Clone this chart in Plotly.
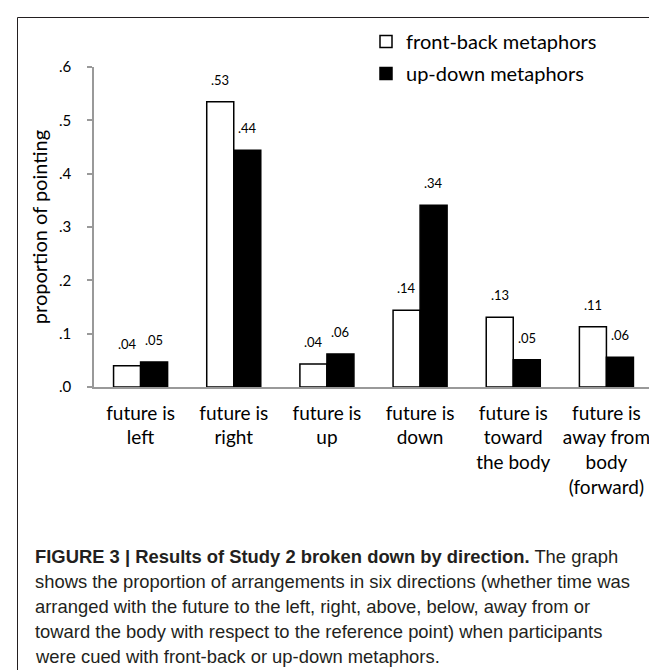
import plotly.graph_objects as go

categories = ["future is<br>left", "future is<br>right", "future is<br>up",
              "future is<br>down", "future is<br>toward<br>the body",
              "future is<br>away from<br>body<br>(forward)"]
front_back = [0.040, 0.535, 0.043, 0.144, 0.131, 0.113]
up_down = [0.047, 0.444, 0.062, 0.341, 0.051, 0.056]
front_back_labels = [".04", ".53", ".04", ".14", ".13", ".11"]
up_down_labels = [".05", ".44", ".06", ".34", ".05", ".06"]
y_tickvals = [0.0, 0.1, 0.2, 0.3, 0.4, 0.5, 0.6]
y_ticktext = [".0", ".1", ".2", ".3", ".4", ".5", ".6"]
series_names = ["front-back metaphors", "up-down metaphors"]
caption_lines = [
    "<b>FIGURE 3 | Results of Study 2 broken down by direction.</b> The graph",
    "shows the proportion of arrangements in six directions (whether time was",
    "arranged with the future to the left, right, above, below, away from or",
    "toward the body with respect to the reference point) when participants",
    "were cued with front-back or up-down metaphors.",
]

W, H = 657, 670
L, R, T, B = 86, 645, 59, 379


def xp(px):
    return (px - L) / (R - L)


def yp(py):
    return (B - py) / (B - T)


FONT = "Lato"

fig = go.Figure()
fig.add_trace(go.Bar(x=categories, y=front_back, name=series_names[0],
                     legendgroup="a",
                     marker=dict(color="white", line=dict(color="black", width=1.5))))
fig.add_trace(go.Bar(x=categories, y=up_down, name=series_names[1],
                     legendgroup="b",
                     marker=dict(color="black", line=dict(color="black", width=1.5))))

annotations = []
for i, cat in enumerate(categories):
    annotations.append(dict(x=cat, y=front_back[i], text=front_back_labels[i],
                            xref="x", yref="y", showarrow=False, xshift=-13.5,
                            yshift=22, yanchor="middle",
                            font=dict(family=FONT, size=13, color="black")))
    annotations.append(dict(x=cat, y=up_down[i], text=up_down_labels[i],
                            xref="x", yref="y", showarrow=False, xshift=13.5,
                            yshift=22, yanchor="middle",
                            font=dict(family=FONT, size=13, color="black")))

cap_y = [548, 573, 598, 623, 648]
for line, cy in zip(caption_lines, cap_y):
    annotations.append(dict(x=xp(25), y=yp(cy), xref="paper", yref="paper",
                            text=line, showarrow=False, xanchor="left",
                            yanchor="middle", align="left",
                            font=dict(family="Liberation Sans", size=18.4,
                                      color="#231f20")))

fig.update_layout(
    width=W, height=H,
    margin=dict(l=L, r=W - R, t=T, b=H - B, autoexpand=False),
    paper_bgcolor="white", plot_bgcolor="white",
    barmode="group", bargap=0.42, bargroupgap=0,
    font=dict(family=FONT, color="black"),
    showlegend=True,
    legend=dict(x=xp(358), y=yp(14), xanchor="left", yanchor="top",
                bgcolor="rgba(0,0,0,0)", font=dict(family=FONT, size=20),
                tracegroupgap=3),
    annotations=annotations,
    shapes=[dict(type="rect", xref="paper", yref="paper",
                 x0=xp(9.5), x1=xp(700), y0=yp(9.5), y1=yp(720),
                 line=dict(color="#231f20", width=1), fillcolor="rgba(0,0,0,0)",
                 layer="below")],
)
fig.update_xaxes(showline=True, linecolor="#999999", linewidth=1.5,
                 ticks="", showgrid=False, zeroline=False,
                 ticklabelstandoff=8,
                 tickfont=dict(family=FONT, size=19, color="black"),
                 range=[-0.5, 5.5])
fig.update_yaxes(range=[0, 0.6], tickvals=y_tickvals, ticktext=y_ticktext,
                 showline=True, linecolor="#999999", linewidth=1.5,
                 ticks="outside", ticklen=5, tickcolor="#999999", tickwidth=1.5,
                 ticklabelstandoff=13,
                 showgrid=False, zeroline=False,
                 tickfont=dict(family=FONT, size=15, color="black"),
                 title=dict(text="proportion of pointing",
                            font=dict(family=FONT, size=20, color="black"),
                            standoff=6))

fig.write_html("out.html")
